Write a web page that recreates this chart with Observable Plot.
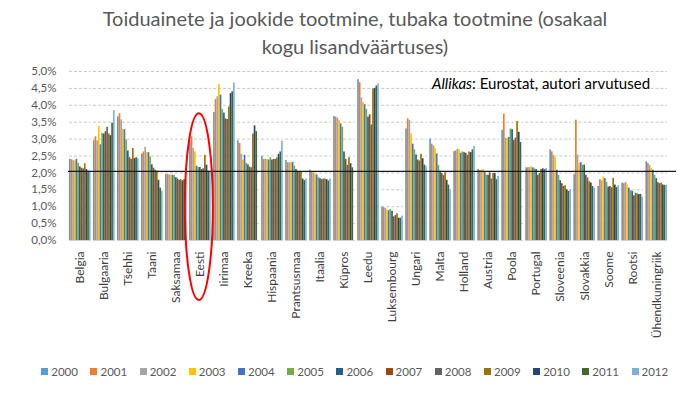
<!DOCTYPE html>
<html>
<head>
<meta charset="utf-8">
<script src="https://cdn.jsdelivr.net/npm/d3@7"></script>
<script src="https://cdn.jsdelivr.net/npm/@observablehq/plot@0.6"></script>
<style>
  html, body { margin: 0; padding: 0; background: #fff; }
  #wrap { position: relative; width: 688px; height: 393px; overflow: hidden; font-family: Lato, "Open Sans", sans-serif; }
  #title { position: absolute; left: 22px; top: 4px; width: 666px; text-align: center; font-size: 20px; line-height: 28px; color: #595959; }
  #chart { position: absolute; left: 0; top: 60px; }
  #source { position: absolute; left: 432px; top: 74px; font-size: 15px; color: #000; white-space: nowrap; }
  #legend { position: absolute; left: 0; top: 365px; width: 688px; display: flex; justify-content: center; font-size: 11.5px; color: #595959; padding-left: 34px; box-sizing: border-box; }
  #legend .item { display: flex; align-items: center; margin-right: 12.5px; }
  #legend .sw { width: 7px; height: 7px; margin-right: 3px; }
</style>
</head>
<body>
<div id="wrap">
  <div id="title">Toiduainete ja jookide tootmine, tubaka tootmine (osakaal<br>kogu lisandväärtuses)</div>
  <div id="chart"></div>
  <div id="source"><i>Allikas</i>: Eurostat, autori arvutused</div>
  <div id="legend"></div>
</div>
<script>
const countries = ["Belgia","Bulgaaria","Tšehhi","Taani","Saksamaa","Eesti","Iirimaa","Kreeka","Hispaania","Prantsusmaa","Itaalia","Küpros","Leedu","Luksembourg","Ungari","Malta","Holland","Austria","Poola","Portugal","Sloveenia","Slovakkia","Soome","Rootsi","Ühendkuningriik"];
const years = ["2000","2001","2002","2003","2004","2005","2006","2007","2008","2009","2010","2011","2012"];
const colors = ["#5B9BD5","#ED7D31","#A5A5A5","#FFC000","#4472C4","#70AD47","#255E91","#9E480E","#636363","#997300","#264478","#43682B","#7CAFDD"];
const yTicks = [0,0.5,1,1.5,2,2.5,3,3.5,4,4.5,5];
const euAverage = 2.03;

// values in % (2000..2012)
const belgia        = [2.40,2.39,2.36,2.36,2.40,2.28,2.18,2.14,2.12,2.27,2.10,2.05,2.05];
const bulgaaria     = [2.95,3.07,2.95,3.37,2.83,3.17,3.15,3.22,3.35,3.15,3.10,3.47,3.84];
const tsehhi        = [3.66,3.75,3.57,3.28,3.28,2.98,2.65,2.45,2.40,2.72,2.42,2.45,2.42];
const taani         = [2.56,2.62,2.76,2.60,2.60,2.47,2.24,2.14,2.08,2.05,1.78,1.55,1.45];
const saksamaa      = [1.95,1.95,1.94,1.93,1.93,1.92,1.86,1.82,1.78,1.80,1.76,1.80,1.73];
const eesti         = [2.95,3.07,2.72,2.62,2.20,2.16,2.16,2.10,2.12,2.52,2.23,2.05,2.05];
const iirimaa       = [3.79,4.17,4.25,4.61,4.30,3.88,3.77,3.60,3.58,3.95,4.35,4.40,4.66];
const kreeka        = [2.95,2.87,2.55,2.38,2.52,2.28,2.24,2.17,2.15,3.15,3.39,3.22,null];
const hispaania     = [2.49,2.40,2.40,2.40,2.38,2.45,2.38,2.40,2.40,2.44,2.55,2.62,2.93];
const prantsusmaa   = [2.37,2.30,2.30,2.30,2.31,2.20,2.10,2.05,2.03,2.03,1.82,1.77,1.82];
const itaalia       = [2.08,2.02,2.00,1.96,1.94,1.86,1.83,1.80,1.82,1.82,1.80,1.76,1.82];
const kypros        = [3.67,3.65,3.62,3.55,3.45,3.35,2.62,2.40,2.22,2.45,2.27,2.15,null];
const leedu         = [4.76,4.67,4.22,4.08,4.02,3.88,3.65,3.72,3.42,4.48,4.50,4.57,4.63];
const luksembourg   = [0.99,0.97,0.95,0.90,0.88,0.92,0.86,0.70,0.74,0.79,0.66,0.66,0.72];
const ungari        = [3.30,3.60,3.55,3.15,2.85,2.68,2.53,2.38,2.35,2.55,2.42,2.23,2.20];
const malta         = [3.00,2.85,2.80,2.73,2.56,2.22,2.05,1.98,1.92,2.00,1.78,1.64,1.50];
const holland       = [2.63,2.65,2.70,2.68,2.58,2.62,2.60,2.58,2.52,2.62,2.60,2.68,2.78];
const austria       = [2.10,2.07,2.08,2.10,2.02,1.93,1.93,2.00,1.82,1.98,1.98,1.80,1.90];
const poola         = [3.26,3.74,3.03,3.02,3.05,3.30,3.28,2.96,3.03,3.52,3.20,2.90,null];
const portugal      = [2.15,2.15,2.16,2.18,2.15,2.12,2.10,1.93,1.98,2.10,2.12,2.10,2.13];
const sloveenia     = [2.68,2.62,2.52,2.45,2.08,1.92,1.77,1.68,1.60,1.62,1.50,1.45,1.50];
const slovakkia     = [1.95,3.56,2.53,2.28,2.30,2.22,2.23,1.93,1.85,1.74,1.70,1.60,1.55];
const soome         = [1.60,1.80,1.76,1.88,1.83,1.72,1.58,1.60,1.56,1.84,1.64,1.57,1.62];
const rootsi        = [1.70,1.68,1.72,1.64,1.55,1.48,1.45,1.32,1.40,1.38,1.36,1.36,1.28];
const uk            = [2.33,2.28,2.22,2.14,2.08,1.93,1.83,1.71,1.68,1.70,1.64,1.63,1.63];

const seriesByCountry = [belgia,bulgaaria,tsehhi,taani,saksamaa,eesti,iirimaa,kreeka,hispaania,prantsusmaa,itaalia,kypros,leedu,luksembourg,ungari,malta,holland,austria,poola,portugal,sloveenia,slovakkia,soome,rootsi,uk];

const data = [];
countries.forEach((c, i) => seriesByCountry[i].forEach((v, j) => {
  if (v != null) data.push({country: c, year: years[j], value: v});
}));

const chart = Plot.plot({
  width: 688,
  height: 300,
  marginTop: 11,
  marginBottom: 120,
  marginLeft: 68,
  marginRight: 20,
  style: {fontFamily: "Lato, 'Open Sans', sans-serif", fontSize: "11.5px", color: "#595959", background: "white", overflow: "visible"},
  facet: {data, x: "country"},
  fx: {domain: countries, axis: "bottom", label: null, paddingInner: 0.1, paddingOuter: 0.04, round: false, tickRotate: -90, tickSize: 0, tickPadding: 11},
  x: {domain: years, axis: null, padding: 0, round: false},
  y: {domain: [0, 5], ticks: yTicks, tickFormat: d => d.toFixed(1).replace(".", ",") + "%", tickSize: 0, tickPadding: 13, label: null},
  color: {domain: years, range: colors},
  marks: [
    Plot.ruleY(yTicks.filter(d => d > 0), {stroke: "#c8c8c8", strokeDasharray: "3,2"}),
    Plot.barY(data, {x: "year", y: "value", fill: "year", inset: 0}),
    Plot.ruleY([0], {stroke: "#d0d0d0"})
  ]
});
document.getElementById("chart").appendChild(chart);

// facet labels: darker, slightly larger
const svg = d3.select(chart);
svg.selectAll("g[aria-label^='fx-axis'] text").attr("fill", "#404040").style("font-size", "12px");

// Overlays positioned with the plot's own scales
const ys = chart.scale("y");
const fxs = chart.scale("fx");
const x0 = 68, x1 = 688 - 20 + 8;
svg.append("line")
  .attr("x1", x0).attr("x2", x1)
  .attr("y1", ys.apply(euAverage)).attr("y2", ys.apply(euAverage))
  .attr("stroke", "#1a1a1a").attr("stroke-width", 1.3);

const ex = fxs.apply("Eesti") + fxs.bandwidth / 2 - 1;
const eTop = ys.apply(3.75);
const eBottom = ys.apply(0) + 60;
svg.append("ellipse")
  .attr("cx", ex).attr("cy", (eTop + eBottom) / 2)
  .attr("rx", 14).attr("ry", (eBottom - eTop) / 2)
  .attr("fill", "none").attr("stroke", "#ff0000").attr("stroke-width", 2);

// legend
const legend = d3.select("#legend");
years.forEach((y, i) => {
  const it = legend.append("div").attr("class", "item");
  it.append("div").attr("class", "sw").style("background", colors[i]);
  it.append("span").text(y);
});
</script>
</body>
</html>
